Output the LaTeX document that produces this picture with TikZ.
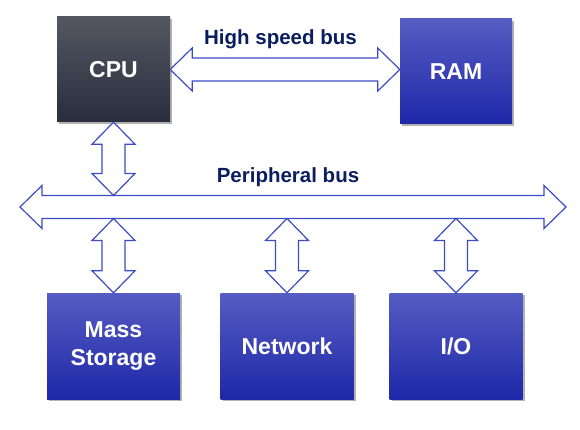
\documentclass[tikz,border=0pt]{standalone}
\usepackage{fontspec}
\setmainfont{Liberation Sans}
\usetikzlibrary{calc,shadows}
\definecolor{busline}{RGB}{60,76,196}
\definecolor{navy}{RGB}{10,30,95}
\definecolor{cputop}{RGB}{84,87,97}
\definecolor{cpubot}{RGB}{40,46,62}
\definecolor{unittop}{RGB}{86,92,194}
\definecolor{unitbot}{RGB}{30,40,168}
\tikzset{
  unit/.style={inner sep=0pt,align=center,text=white,top color=unittop,bottom color=unitbot,
    font=\fontsize{23}{28}\selectfont\bfseries,
    drop shadow={shadow xshift=2pt,shadow yshift=-2pt,fill=black,opacity=.3}},
  cpubox/.style={top color=cputop,bottom color=cpubot},
  bus/.style={draw=busline,fill=white,line width=1.2pt,line join=miter},
  buslabel/.style={anchor=base,text=navy,font=\fontsize{20.5}{24}\selectfont\bfseries}
}
% double block arrow from #1 to #2
\newcommand\biarrow[2]{%
  \draw[bus] let \p1=(#1), \p2=(#2), \n1={atan2(\y2-\y1,\x2-\x1)}, \n2={veclen(\x2-\x1,\y2-\y1)} in
    [shift={(\p1)},rotate=\n1] (0pt,0pt) -- (22pt,21.5pt) -- (22pt,11.5pt) -- ({\n2-22pt},11.5pt)
    -- ({\n2-22pt},21.5pt) -- ({\n2},0pt) -- ({\n2-22pt},-21.5pt) -- ({\n2-22pt},-11.5pt)
    -- (22pt,-11.5pt) -- (22pt,-21.5pt) -- cycle;}
\begin{document}
\begin{tikzpicture}[x=1pt,y=-1pt]
    \useasboundingbox (0,0) rectangle (580,430);
    \node[unit,cpubox,minimum width=113pt,minimum height=105pt] (cpu) at (113.5,69.5) {CPU};
    \node[unit,minimum width=112pt,minimum height=105pt] (ram) at (456,71.5) {RAM};
    \coordinate (pl) at (20,207);
    \coordinate (pr) at (566,207);
    \coordinate (btop) at (0,195.5);
    \coordinate (bbot) at (0,218.5);
    \biarrow{cpu.east}{cpu.east -| ram.west}
    \biarrow{pl}{pr}
    \biarrow{cpu.south}{cpu.south |- btop}
    \foreach \u/\x/\t in {mass/113.5/{Mass\\Storage},net/287/Network,io/456/{I/O}} {
        \node[unit,minimum width=133pt,minimum height=106pt] (\u) at (\x,346) {\t};
        \biarrow{\u.north |- bbot}{\u.north}
    }
    \node[buslabel] (hsb) at (280.5,45) {High speed bus};
    \node[buslabel] (pbl) at (288,183) {Peripheral bus};
\end{tikzpicture}
\end{document}
